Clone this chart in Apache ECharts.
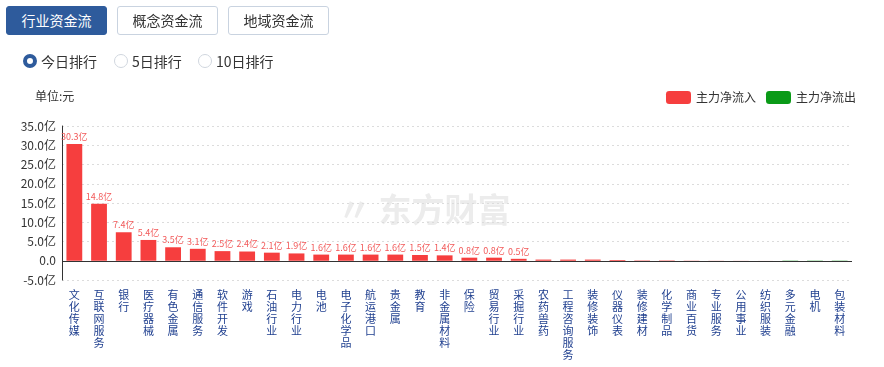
<!DOCTYPE html>
<html>
<head>
<meta charset="utf-8">
<script src="https://cdn.jsdelivr.net/npm/echarts@6/dist/echarts.min.js"></script>
<style>
html,body{margin:0;padding:0;background:#fff;font-family:"Noto Sans CJK SC","Noto Sans",sans-serif;}
#wrap{position:relative;width:884px;height:367px;overflow:hidden;}
#chart{position:absolute;left:0;top:0;width:884px;height:367px;}
.btn{position:absolute;top:6px;height:29px;width:101px;box-sizing:border-box;border:1px solid #c9d3e0;border-radius:3px;font-size:14px;line-height:27px;text-align:center;color:#333;background:#fff;z-index:2;}
.btn.on{background:#2e5b9c;border-color:#2e5b9c;color:#fff;}
.radio{position:absolute;top:52px;font-size:14px;line-height:18px;color:#333;z-index:2;}
.radio i{position:absolute;left:0;top:2px;width:14px;height:14px;box-sizing:border-box;border:1px solid #d0d6de;border-radius:50%;}
.radio.on i{border:4px solid #2e5b9c;}
.radio span{position:absolute;left:18px;top:0;white-space:nowrap;}
</style>
</head>
<body>
<div id="wrap">
  <div class="btn on" style="left:6px">行业资金流</div>
  <div class="btn" style="left:117px">概念资金流</div>
  <div class="btn" style="left:228px">地域资金流</div>
  <div class="radio on" style="left:23px"><i></i><span>今日排行</span></div>
  <div class="radio" style="left:114px"><i></i><span>5日排行</span></div>
  <div class="radio" style="left:198px"><i></i><span>10日排行</span></div>
  <div id="chart"></div>
</div>
<script>
var categories = ["文化传媒","互联网服务","银行","医疗器械","有色金属","通信服务","软件开发","游戏","石油行业","电力行业","电池","电子化学品","航运港口","贵金属","教育","非金属材料","保险","贸易行业","采掘行业","农药兽药","工程咨询服务","装修装饰","仪器仪表","装修建材","化学制品","商业百货","专业服务","公用事业","纺织服装","多元金融","电机","包装材料"];
var netFlow = [30.3,14.8,7.4,5.4,3.5,3.1,2.5,2.4,2.1,1.9,1.6,1.6,1.6,1.6,1.5,1.4,0.8,0.8,0.5,0.3,0.3,0.3,0.2,0.1,0.1,0.05,0.03,0.02,0.01,-0.2,-0.3,-0.3];
var yMin = -5, yMax = 35, yStep = 5;
var seriesNames = ["主力净流入","主力净流出"];
var RED = "#f63e3e", GREEN = "#0a9a17";

var inflow = netFlow.map(function(v){ return v >= 0 ? v : '-'; });
var outflow = netFlow.map(function(v){ return v < 0 ? v : '-'; });

var chart = echarts.init(document.getElementById('chart'), null, {renderer:'canvas'});
var font = '"Noto Sans CJK SC","Noto Sans",sans-serif';
chart.setOption({
  animation:false,
  textStyle:{fontFamily:font},
  graphic:[
    {type:'text', left:35, top:90, style:{text:'单位:元', fill:'#333', font:'12px '+font}},
    {type:'text', left:338, top:193, z:0, style:{text:'〃 东方财富', fill:'#ececec', font:'bold 33px '+font}}
  ],
  legend:{
    right:23, top:86, itemWidth:25, itemHeight:13, itemGap:10,
    data:[{name:seriesNames[0], itemStyle:{color:RED}},{name:seriesNames[1], itemStyle:{color:GREEN}}],
    textStyle:{color:'#333', fontSize:12}
  },
  grid:{left:62, right:32, top:126, bottom:87, containLabel:false, outerBoundsMode:'none'},
  xAxis:{
    type:'category', data:categories,
    axisLine:{show:false}, axisTick:{show:false},
    axisLabel:{interval:0, margin:9, color:'#1f3f8f', fontSize:11, lineHeight:12, verticalAlign:'top',
      formatter:function(s){ return s.split('').join('\n'); }}
  },
  yAxis:{
    type:'value', min:yMin, max:yMax, interval:yStep,
    axisLine:{show:true, lineStyle:{color:'#333'}}, axisTick:{show:false},
    splitLine:{show:true, lineStyle:{color:'#dcdcdc', type:[2,3]}},
    axisLabel:{color:'#333', fontSize:12, margin:6,
      formatter:function(v){ return v === 0 ? '0.0' : v.toFixed(1)+'亿'; }}
  },
  series:[
    {name:seriesNames[0], type:'bar', data:inflow, barWidth:'64%', barGap:'-100%', itemStyle:{color:RED},
      label:{show:true, position:'top', distance:3, color:'#f25a5a', fontSize:9,
        formatter:function(p){ return p.value >= 0.5 ? p.value.toFixed(1)+'亿' : ''; }},
      markLine:{silent:true, symbol:'none', label:{show:false}, lineStyle:{color:'#333', type:'solid', width:1},
        data:[{yAxis:0}]}
    },
    {name:seriesNames[1], type:'bar', data:outflow, barWidth:'64%', barGap:'-100%', itemStyle:{color:GREEN}}
  ]
});
</script>
</body>
</html>
